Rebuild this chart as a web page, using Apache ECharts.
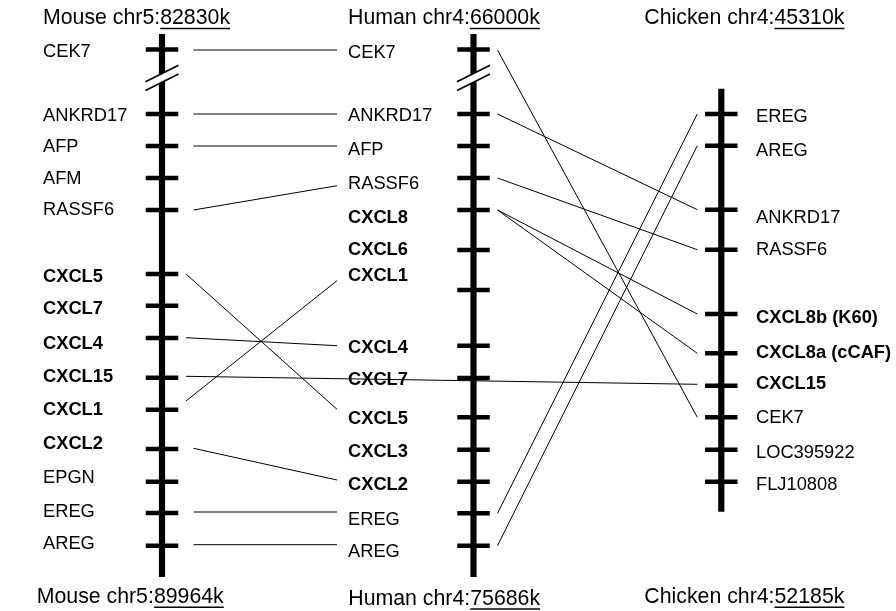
<!DOCTYPE html>
<html><head><meta charset="utf-8">
<script src="https://cdn.jsdelivr.net/npm/echarts@6/dist/echarts.min.js"></script>
<style>html,body{margin:0;padding:0;background:#fff}#c{width:896px;height:611px}</style>
</head><body><div id="c"></div>
<script>
// ---------------- data ----------------
const trackNames = ['Mouse chr5', 'Human chr4', 'Chicken chr4'];
const trackStartKb = ['82830k', '66000k', '45310k'];
const trackEndKb = ['89964k', '75686k', '52185k'];
// chromosome extents (chart units, top -> bottom)
const trackTop = [34, 34, 88.7];
const trackBottom = [577, 577, 511.7];
const trackBreak = [78, 78, null];

const mouseGenes = ['CEK7','ANKRD17','AFP','AFM','RASSF6','CXCL5','CXCL7','CXCL4','CXCL15','CXCL1','CXCL2','EPGN','EREG','AREG'];
const mouseTicks = [49.5,114,146,178,210,274,305.7,338,377.7,409.7,449,481.7,513,545.7];
const mouseLabelPos = [51,115,146.3,178,209,276,308,342.7,375.7,409.3,442.7,476.7,510.7,543.3];

const humanGenes = ['CEK7','ANKRD17','AFP','RASSF6','CXCL8','CXCL6','CXCL1','CXCL4','CXCL7','CXCL5','CXCL3','CXCL2','EREG','AREG'];
const humanTicks = [49.5,114,146,178,210,250,290,345.7,378,417.3,449.7,481.7,513.3,545.7];
const humanLabelPos = [51.7,115,149.3,182.7,216.7,249.3,275,346.7,379,417.7,450.7,484,519,550.7];

const chickenGenes = ['EREG','AREG','ANKRD17','RASSF6','CXCL8b (K60)','CXCL8a (cCAF)','CXCL15','CEK7','LOC395922','FLJ10808'];
const chickenTicks = [114,145.7,209.7,249.7,314,353.3,385.7,417.3,449.7,481.7];
const chickenLabelPos = [116,149.7,216.7,249.3,316.7,351.7,383.3,417.3,451.7,484.3];

// orthology links: [fromTrack, fromY, toTrack, toY, crossing]
const mouseHumanLinks = [
  [0, 50, 1, 50, 0],
  [0, 114, 1, 114, 0],
  [0, 146, 1, 146, 0],
  [0, 210, 1, 185.7, 0],
  [0, 274, 1, 409.3, 1],
  [0, 337.7, 1, 345.7, 1],
  [0, 401, 1, 280.7, 1],
  [0, 448.3, 1, 480, 0],
  [0, 512, 1, 512, 0],
  [0, 544.7, 1, 544.7, 0]
];
const mouseChickenLinks = [
  [0, 376.3, 2, 384.3, 1]
];
const humanChickenLinks = [
  [1, 50, 2, 417.3, 0],
  [1, 114, 2, 209.7, 0],
  [1, 178, 2, 249.7, 0],
  [1, 210, 2, 314, 0],
  [1, 210, 2, 353.3, 0],
  [1, 513.3, 2, 114, 0],
  [1, 545.7, 2, 145.7, 0]
];

// ---------------- layout (positions / styles) ----------------
const layout = {
  trackX: [162, 473.5, 721.3],
  labelX: [43, 348, 756],
  labelDy: 1,
  headTopX: [43, 348, 644.3],
  headTopY: 18.5,
  headBotX: [36.7, 348.3, 644.3],
  headBotY: [597.3, 599, 597.3],
  chromW: 6.2,
  tickW: 32.5,
  tickH: 4.4,
  linkFromGap: [31.5, 24],   // normal / crossing
  linkToMouseHuman: 11,      // gap before human label
  hcGap: 24
};
const FONT = '"Liberation Sans", Arial, Helvetica, sans-serif';
const GENE_SIZE = 18.3, HEAD_SIZE = 21.3;

const ctx2d = document.createElement('canvas').getContext('2d');
function textW(t, size, weight) {
  ctx2d.font = (weight || 'normal') + ' ' + size + 'px ' + FONT;
  return ctx2d.measureText(t).width;
}

// build items
const tickItems = [];
[mouseTicks, humanTicks, chickenTicks].forEach((arr, ti) => arr.forEach(y => tickItems.push([layout.trackX[ti], y])));

const labelItems = [], labelMeta = [];
[[mouseGenes, mouseLabelPos], [humanGenes, humanLabelPos], [chickenGenes, chickenLabelPos]].forEach((pair, ti) => {
  pair[0].forEach((g, i) => {
    labelItems.push([layout.labelX[ti], pair[1][i]]);
    labelMeta.push({ text: g, bold: /^CXCL/.test(g) });
  });
});

const linkItems = [];
mouseHumanLinks.forEach(l => {
  linkItems.push([layout.trackX[l[0]] + layout.linkFromGap[l[4]], l[1], layout.labelX[1] - layout.linkToMouseHuman, l[3]]);
});
mouseChickenLinks.forEach(l => {
  linkItems.push([layout.trackX[l[0]] + layout.linkFromGap[l[4]], l[1], layout.trackX[2] - layout.hcGap, l[3]]);
});
humanChickenLinks.forEach(l => {
  linkItems.push([layout.trackX[1] + layout.hcGap, l[1], layout.trackX[2] - layout.hcGap, l[3]]);
});

const headerItems = [], headerMeta = [];
for (let i = 0; i < 3; i++) {
  headerItems.push([layout.headTopX[i], layout.headTopY]);
  headerMeta.push({ pre: trackNames[i] + ':', val: trackStartKb[i] });
  headerItems.push([layout.headBotX[i], layout.headBotY[i]]);
  headerMeta.push({ pre: trackNames[i] + ':', val: trackEndKb[i] });
}

const chromItems = trackTop.map((t, i) => [layout.trackX[i], t, trackBottom[i]]);
const breakItems = [];
trackBreak.forEach((b, i) => { if (b != null) breakItems.push([layout.trackX[i], b]); });

const chart = echarts.init(document.getElementById('c'));
chart.setOption({
  animation: false,
  backgroundColor: '#fff',
  grid: { left: 0, right: 0, top: 0, bottom: 0 },
  xAxis: { type: 'value', min: 0, max: 896, show: false },
  yAxis: { type: 'value', min: 0, max: 611, inverse: true, show: false },
  series: [
    {
      type: 'custom', clip: false, silent: true, data: linkItems,
      renderItem: (params, api) => {
        const a = api.coord([api.value(0), api.value(1)]);
        const b = api.coord([api.value(2), api.value(3)]);
        return { type: 'line', shape: { x1: a[0], y1: a[1], x2: b[0], y2: b[1] }, style: { stroke: '#000', lineWidth: 1 } };
      }
    },
    {
      type: 'custom', clip: false, silent: true, data: chromItems,
      renderItem: (params, api) => {
        const a = api.coord([api.value(0), api.value(1)]);
        const b = api.coord([api.value(0), api.value(2)]);
        return { type: 'rect', shape: { x: a[0] - layout.chromW / 2, y: a[1], width: layout.chromW, height: b[1] - a[1] }, style: { fill: '#000' } };
      }
    },
    {
      type: 'custom', clip: false, silent: true, data: tickItems,
      renderItem: (params, api) => {
        const c = api.coord([api.value(0), api.value(1)]);
        return { type: 'rect', shape: { x: c[0] - layout.tickW / 2, y: c[1] - layout.tickH / 2, width: layout.tickW, height: layout.tickH }, style: { fill: '#000' } };
      }
    },
    {
      type: 'custom', clip: false, silent: true, data: breakItems,
      renderItem: (params, api) => {
        const c = api.coord([api.value(0), api.value(1)]);
        const s = -0.5, hw = 16.5;
        const yA = c[1] - 4.5, yB = c[1] + 4.2;
        const w = 5;
        return {
          type: 'group', children: [
            { type: 'polygon', shape: { points: [[c[0] - w, yA - s * w], [c[0] + w, yA + s * w], [c[0] + w, yB + s * w], [c[0] - w, yB - s * w]] }, style: { fill: '#fff' } },
            { type: 'line', shape: { x1: c[0] - hw, y1: yA - s * hw, x2: c[0] + hw, y2: yA + s * hw }, style: { stroke: '#000', lineWidth: 1.6 } },
            { type: 'line', shape: { x1: c[0] - hw, y1: yB - s * hw, x2: c[0] + hw, y2: yB + s * hw }, style: { stroke: '#000', lineWidth: 1.6 } }
          ]
        };
      }
    },
    {
      type: 'custom', clip: false, silent: true, data: labelItems,
      renderItem: (params, api) => {
        const c = api.coord([api.value(0), api.value(1)]);
        const m = labelMeta[params.dataIndex];
        return { type: 'text', x: c[0], y: c[1] + layout.labelDy, style: { text: m.text, fill: '#000', font: (m.bold ? 'bold ' : '') + GENE_SIZE + 'px ' + FONT, textAlign: 'left', textVerticalAlign: 'middle' } };
      }
    },
    {
      type: 'custom', clip: false, silent: true, data: headerItems,
      renderItem: (params, api) => {
        const c = api.coord([api.value(0), api.value(1)]);
        const m = headerMeta[params.dataIndex];
        const w1 = textW(m.pre, HEAD_SIZE), w2 = textW(m.val, HEAD_SIZE);
        const font = HEAD_SIZE + 'px ' + FONT;
        const uy = c[1] + 9.3;
        return {
          type: 'group', children: [
            { type: 'text', x: c[0], y: c[1], style: { text: m.pre, fill: '#000', font: font, textAlign: 'left', textVerticalAlign: 'middle' } },
            { type: 'text', x: c[0] + w1, y: c[1], style: { text: m.val, fill: '#000', font: font, textAlign: 'left', textVerticalAlign: 'middle' } },
            { type: 'rect', shape: { x: c[0] + w1, y: uy, width: w2, height: 1.5 }, style: { fill: '#000' } }
          ]
        };
      }
    }
  ]
});
</script>
</body></html>
